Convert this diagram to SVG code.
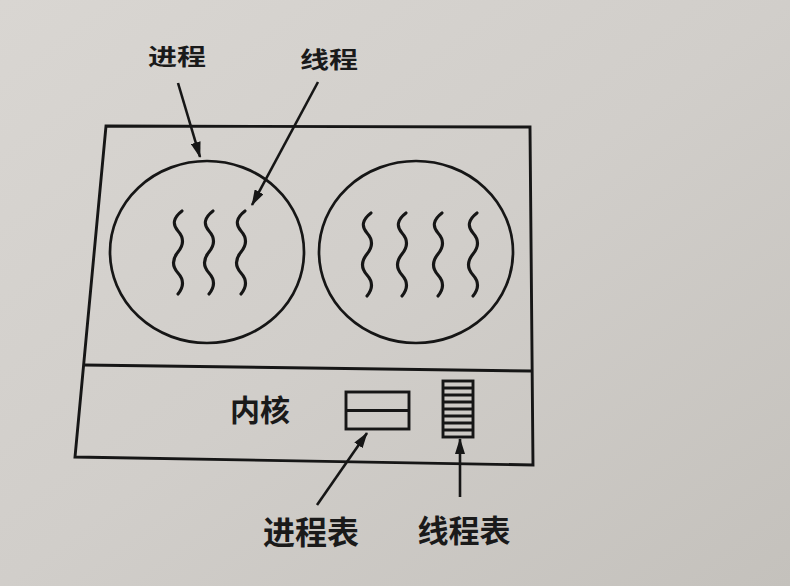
<svg xmlns="http://www.w3.org/2000/svg" width="790" height="586" viewBox="0 0 790 586">
  <defs>
    <linearGradient id="paper" x1="0" y1="0" x2="1" y2="1">
      <stop offset="0" stop-color="#d9d6d2"/>
      <stop offset="0.5" stop-color="#d1cecA"/>
      <stop offset="1" stop-color="#c4c1bc"/>
    </linearGradient>
    <marker id="ah" viewBox="0 0 16 10" refX="15" refY="5" markerWidth="16" markerHeight="10" markerUnits="userSpaceOnUse" orient="auto">
      <path d="M0,0 L16,5 L0,10 Z" fill="#161616"/>
    </marker>
    <path id="wave" d="M4,0 Q-9,10 0,20 T0,41 T0,62 T0,83"/>
  </defs>
  <style>
    .ln{fill:none;stroke:#161616;stroke-width:2.9;stroke-linejoin:miter}
    .circ{fill:none;stroke:#161616;stroke-width:2.7}
    .wv{fill:none;stroke:#161616;stroke-width:3.1;stroke-linecap:round}
    .ar{fill:none;stroke:#161616;stroke-width:2.6;marker-end:url(#ah)}
    .lbl{font-family:"Noto Sans CJK SC","Noto Sans CJK JP",sans-serif;font-weight:700;fill:#1a1a1a;text-anchor:middle;dominant-baseline:central}
  </style>
  <rect x="0" y="0" width="790" height="586" fill="url(#paper)"/>

  <g id="system">
    <polygon class="ln" points="106,126 530,127 533,465 75,457"/>
  </g>
  <g id="kernel">
    <line class="ln" x1="84" y1="365" x2="531" y2="371"/>
    <text class="lbl" x="260" y="408" font-size="30">内核</text>
  </g>

  <g id="process1">
    <ellipse class="circ" cx="207" cy="252" rx="97" ry="91"/>
    <use href="#wave" class="wv" x="178" y="211"/>
    <use href="#wave" class="wv" x="209" y="211"/>
    <use href="#wave" class="wv" x="241" y="211"/>
  </g>
  <g id="process2">
    <ellipse class="circ" cx="416" cy="252" rx="97" ry="91"/>
    <use href="#wave" class="wv" x="367" y="213"/>
    <use href="#wave" class="wv" x="402" y="213"/>
    <use href="#wave" class="wv" x="438" y="213"/>
    <use href="#wave" class="wv" x="473" y="213"/>
  </g>

  <g id="process-table">
    <rect class="ln" x="346" y="392" width="63" height="37"/>
    <line class="ln" x1="346" y1="410.5" x2="409" y2="410.5"/>
  </g>
  <g id="thread-table">
    <rect class="ln" x="443" y="381" width="30" height="56"/>
    <path class="ln" stroke-width="2.4" d="M443,388 H473 M443,395 H473 M443,402 H473 M443,409 H473 M443,416 H473 M443,423 H473 M443,430 H473"/>
  </g>

  <g id="label-process">
    <text class="lbl" font-size="29" transform="translate(177,55) scale(1,0.78)">进程</text>
  </g>
  <g id="label-thread">
    <text class="lbl" font-size="29" transform="translate(329,58) scale(1,0.78)">线程</text>
  </g>
  <g id="label-process-table">
    <text class="lbl" x="311" y="530" font-size="32">进程表</text>
  </g>
  <g id="label-thread-table">
    <text class="lbl" x="464" y="528" font-size="31">线程表</text>
  </g>

  <g id="connectors">
    <line class="ar" x1="178" y1="83" x2="200" y2="157"/>
    <line class="ar" x1="318" y1="82" x2="252" y2="205"/>
    <line class="ar" x1="317" y1="505" x2="367" y2="433"/>
    <line class="ar" x1="460" y1="497" x2="460" y2="439"/>
  </g>
</svg>
